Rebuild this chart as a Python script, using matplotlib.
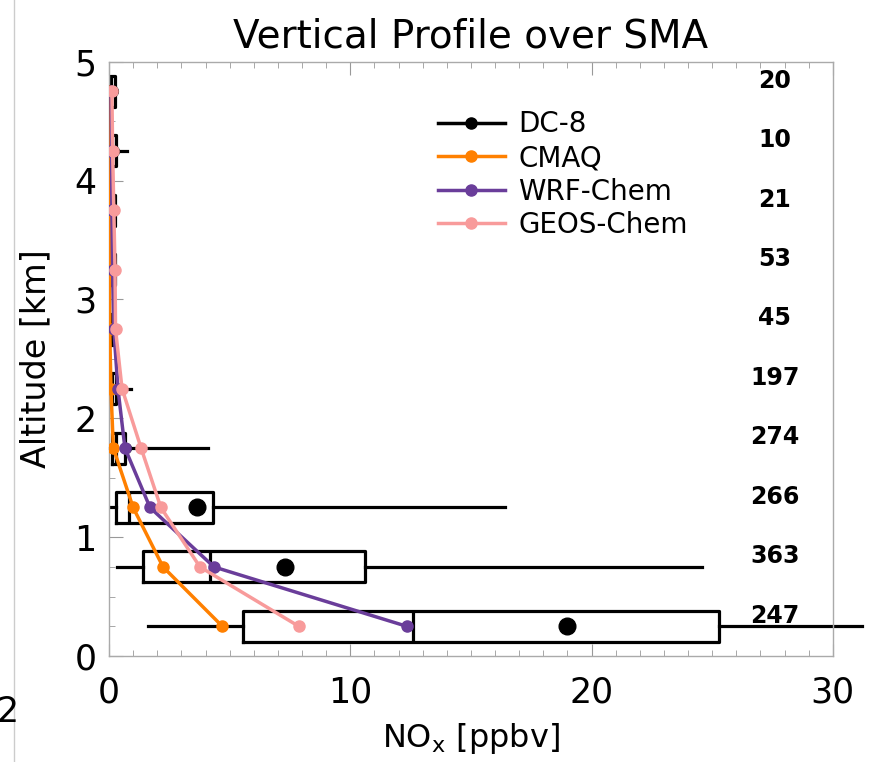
import matplotlib
matplotlib.use("Agg")
import matplotlib.pyplot as plt
from matplotlib.lines import Line2D

# altitude bins (km) and DC-8 sample counts
alt = [0.25, 0.75, 1.25, 1.75, 2.25, 2.75, 3.25, 3.75, 4.25, 4.75]
counts = [247, 363, 266, 274, 197, 45, 53, 21, 10, 20]

# DC-8 NOx statistics per bin (ppbv)
dc8_whislo = [1.6, 0.33, 0.1, 0.05, 0.03, 0.03, 0.03, 0.03, 0.03, 0.03]
dc8_q1 = [5.55, 1.4, 0.3, 0.12, 0.05, 0.05, 0.06, 0.06, 0.06, 0.05]
dc8_med = [12.6, 4.2, 0.83, 0.3, 0.12, 0.1, 0.12, 0.12, 0.12, 0.1]
dc8_q3 = [25.3, 10.6, 4.3, 0.66, 0.3, 0.2, 0.25, 0.25, 0.28, 0.25]
dc8_whishi = [31.2, 24.6, 16.4, 4.1, 0.9, 0.4, 0.3, 0.3, 0.75, 0.3]
dc8_mean = [19.0, 7.3, 3.65, 0.7, 0.35, 0.22, 0.22, 0.2, 0.2, 0.15]

# model profiles
cmaq = [4.7, 2.24, 1.0, 0.18, 0.08, 0.03, 0.03, 0.02, 0.02, 0.02]
wrf = [12.35, 4.35, 1.7, 0.66, 0.37, 0.2, 0.15, 0.12, 0.1, 0.08]
geos = [7.87, 3.77, 2.15, 1.33, 0.54, 0.27, 0.25, 0.2, 0.15, 0.12]

c_cmaq = "#ff8000"
c_wrf = "#6a3d9a"
c_geos = "#f89b9b"

plt.rcParams["font.family"] = ["DejaVu Sans"]

fig = plt.figure(figsize=(8.72, 7.62), dpi=100)
ax = fig.add_axes([0.125, 0.139, 0.83, 0.78])

stats = []
for i in range(len(alt)):
    stats.append(dict(whislo=dc8_whislo[i], q1=dc8_q1[i], med=dc8_med[i],
                      q3=dc8_q3[i], whishi=dc8_whishi[i], mean=dc8_mean[i]))
bp = ax.bxp(stats, positions=alt, widths=0.26, orientation="horizontal",
            showcaps=False, showfliers=False, showmeans=True, manage_ticks=False,
            boxprops=dict(color="black", linewidth=2.3),
            medianprops=dict(color="black", linewidth=2.3),
            whiskerprops=dict(color="black", linewidth=2.3),
            meanprops=dict(marker="o", markerfacecolor="black",
                           markeredgecolor="black", markersize=12))
for w in bp["whiskers"]:
    w.set_clip_on(False)
# small means in the upper bins sit under the model dots
for m, a in zip(bp["means"], alt):
    if a > 1.5:
        m.set_markersize(7)

ax.plot(cmaq, alt, color=c_cmaq, lw=2.5, marker="o", ms=8, zorder=5)
ax.plot(wrf, alt, color=c_wrf, lw=2.5, marker="o", ms=8, zorder=5)
ax.plot(geos, alt, color=c_geos, lw=2.5, marker="o", ms=8, zorder=6)

for a, n in zip(alt, counts):
    ax.text(27.6, a + 0.09, str(n), ha="center", va="center", fontsize=17,
            fontweight="bold", zorder=7)

ax.set_xlim(0, 30)
ax.set_ylim(0, 5)
ax.set_xticks([0, 10, 20, 30])
ax.set_xticks(range(0, 31), minor=True)
ax.set_yticks([0, 1, 2, 3, 4, 5])
ax.set_yticks([i * 0.25 for i in range(21)], minor=True)
ax.tick_params(which="both", direction="in", color="#999999", top=True,
               right=False, labelsize=25)
ax.tick_params(axis="x", which="major", length=9, pad=14)
ax.tick_params(axis="y", which="major", length=10, pad=9)
ax.tick_params(which="minor", length=4)
for s in ax.spines.values():
    s.set_color("#aaaaaa")
    s.set_linewidth(1.0)

ax.set_xlabel(r"NO$_{\rm x}$ [ppbv]", fontsize=23, labelpad=8)
ax.set_ylabel("Altitude [km]", fontsize=24, labelpad=16)
ax.set_title("Vertical Profile over SMA", fontsize=28, pad=10)

handles = [
    Line2D([], [], color="black", lw=2.5, marker="o", ms=8),
    Line2D([], [], color=c_cmaq, lw=2.5, marker="o", ms=8),
    Line2D([], [], color=c_wrf, lw=2.5, marker="o", ms=8),
    Line2D([], [], color=c_geos, lw=2.5, marker="o", ms=8),
]
ax.legend(handles, ["DC-8", "CMAQ", "WRF-Chem", "GEOS-Chem"], loc="upper left",
          bbox_to_anchor=(0.42, 0.96), frameon=False, fontsize=20,
          handlelength=2.4, handletextpad=0.5, labelspacing=0.2)

# edge of neighbouring panel
fig.add_artist(Line2D([0.016, 0.016], [0.0, 1.0], color="#cccccc", lw=1))
fig.text(-0.004, 0.065, "2", fontsize=25, va="center")

fig.savefig("out.png", dpi=100)
